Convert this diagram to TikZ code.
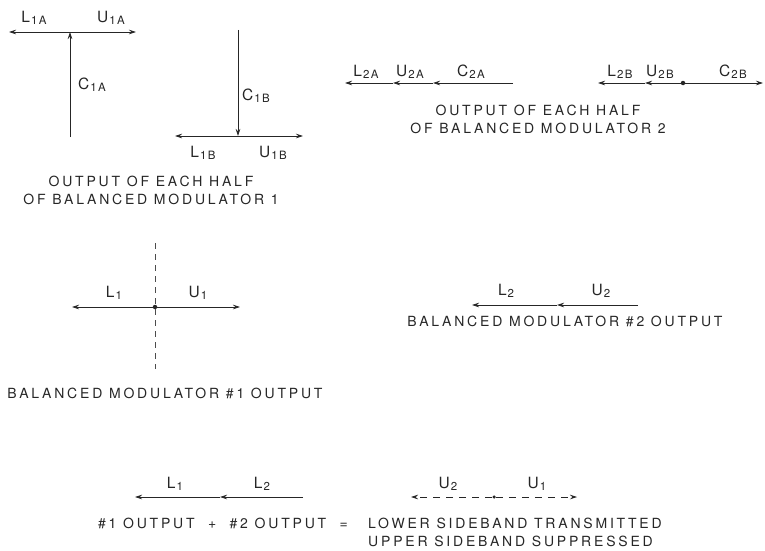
\documentclass[tikz,border=0pt]{standalone}
\usepackage{fontspec}
\newfontfamily\lf{TeX Gyre Heros}[LetterSpace=20]
\newfontfamily\subf{TeX Gyre Heros}[LetterSpace=12]
\usetikzlibrary{arrows.meta}
\newcommand{\lbl}[2]{{\lf\fontsize{15.5}{17}\selectfont #1\kern1pt}\raisebox{-0.5ex}{\subf\fontsize{11.5}{13}\selectfont #2}}
\begin{document}
\begin{tikzpicture}[x=1pt,y=-1pt,
  vec/.style={draw=black!85,line width=0.7pt,-{Stealth[length=7pt,width=4.5pt]}},
  dvec/.style={vec,dash pattern=on 7pt off 6pt},
  txt/.style={inner sep=0pt,text=black!85},
  captxt/.style={inner sep=0pt,text=black!85,font=\lf\fontsize{14}{18}\selectfont,align=center},
  dot/.style={circle,fill=black!85,inner sep=0pt,minimum size=4.5pt}]
\useasboundingbox (0,0) rectangle (765,551);
% ---- Modulator 1, half A
\coordinate (o1a) at (70,32);
\coordinate (l1a) at (9,32);
\coordinate (u1a) at (136,32);
\coordinate (c1a) at (70,137);
\draw[vec] (o1a) -- (l1a);
\draw[vec] (o1a) -- (u1a);
\draw[vec] (c1a) -- (o1a);
\node[txt] (tl1a) at (34,18) {\lbl{L}{1A}};
\node[txt] (tu1a) at (111,18) {\lbl{U}{1A}};
\node[txt] (tc1a) at (92,85) {\lbl{C}{1A}};
% ---- Modulator 1, half B
\coordinate (o1b) at (238,136);
\coordinate (c1b) at (238,30);
\coordinate (l1b) at (175,136);
\coordinate (u1b) at (303,136);
\draw[vec] (c1b) -- (o1b);
\draw[vec] (o1b) -- (l1b);
\draw[vec] (o1b) -- (u1b);
\node[txt] (tl1b) at (203,153) {\lbl{L}{1B}};
\node[txt] (tu1b) at (273,153) {\lbl{U}{1B}};
\node[txt] (tc1b) at (256,96) {\lbl{C}{1B}};
\node[captxt] (cap1) at (151,190) {OUTPUT OF EACH HALF\\OF BALANCED MODULATOR 1};
% ---- Modulator 2, half A
\coordinate (c2a) at (513,83);
\coordinate (u2a) at (433,83);
\coordinate (l2a) at (393,83);
\coordinate (e2a) at (345,83);
\draw[vec] (c2a) -- (u2a);
\draw[vec] (u2a) -- (l2a);
\draw[vec] (l2a) -- (e2a);
\node[txt] (tl2a) at (366,72) {\lbl{L}{2A}};
\node[txt] (tu2a) at (410,72) {\lbl{U}{2A}};
\node[txt] (tc2a) at (471,72) {\lbl{C}{2A}};
% ---- Modulator 2, half B
\node[dot] (o2b) at (683,83) {};
\coordinate (c2b) at (763,83);
\coordinate (u2b) at (645,83);
\coordinate (l2b) at (598,83);
\draw[vec] (o2b) -- (c2b);
\draw[vec] (o2b) -- (u2b);
\draw[vec] (u2b) -- (l2b);
\node[txt] (tl2b) at (620,72) {\lbl{L}{2B}};
\node[txt] (tu2b) at (660,72) {\lbl{U}{2B}};
\node[txt] (tc2b) at (733,72) {\lbl{C}{2B}};
\node[captxt] (cap2) at (538,119) {OUTPUT OF EACH HALF\\OF BALANCED MODULATOR 2};
% ---- Balanced modulator 1 output
\node[dot] (o3) at (155,307) {};
\coordinate (l3) at (72,307);
\coordinate (u3) at (240,307);
\coordinate (t3) at (155,243);
\coordinate (b3) at (155,369);
\draw[black!70,line width=0.6pt,dash pattern=on 6pt off 5pt] (t3) -- (b3);
\draw[vec] (o3) -- (l3);
\draw[vec] (o3) -- (u3);
\node[txt] (tl3) at (114,293) {\lbl{L}{1}};
\node[txt] (tu3) at (198,293) {\lbl{U}{1}};
\node[captxt] (cap3) at (165,393) {BALANCED MODULATOR \#1 OUTPUT};
% ---- Balanced modulator 2 output
\coordinate (s4) at (638,305);
\coordinate (m4) at (557,305);
\coordinate (e4) at (472,305);
\draw[vec] (s4) -- (m4);
\draw[vec] (m4) -- (e4);
\node[txt] (tl4) at (506,291) {\lbl{L}{2}};
\node[txt] (tu4) at (601,291) {\lbl{U}{2}};
\node[captxt] (cap4) at (565,321) {BALANCED MODULATOR \#2 OUTPUT};
% ---- Sum
\coordinate (s5) at (303,497);
\coordinate (m5) at (220,497);
\coordinate (e5) at (135,497);
\draw[vec] (s5) -- (m5);
\draw[vec] (m5) -- (e5);
\node[txt] (tl5) at (175,484) {\lbl{L}{1}};
\node[txt] (tl25) at (262,484) {\lbl{L}{2}};
\node[dot,minimum size=3.5pt] (o6) at (494,497) {};
\coordinate (l6) at (411,497);
\coordinate (r6) at (577,497);
\draw[dvec] (o6) -- (l6);
\draw[dvec] (o6) -- (r6);
\node[txt] (tu6) at (448,484) {\lbl{U}{2}};
\node[txt] (tu16) at (537,484) {\lbl{U}{1}};
\node[captxt,anchor=east] (eq) at (348,523) {\#1 OUTPUT\ \ +\ \ \#2 OUTPUT\ \ =};
\node[captxt,anchor=west,align=left] (res) at (368,532) {LOWER SIDEBAND TRANSMITTED\\UPPER SIDEBAND SUPPRESSED};
\end{tikzpicture}
\end{document}
